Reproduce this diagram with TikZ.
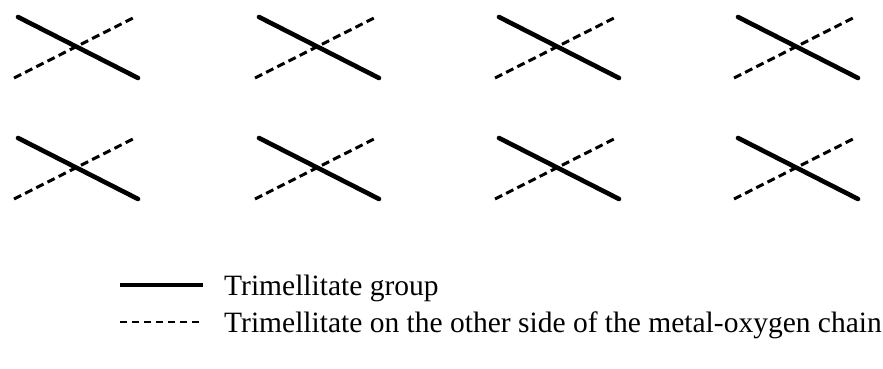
\documentclass[tikz,border=0pt]{standalone}
\usepackage{fontspec}
\setmainfont{Liberation Serif}
\begin{document}
\begin{tikzpicture}[x=1pt,y=-1pt,
  grp/.style={line width=4.6pt,line cap=round},
  otherside/.style={line width=3pt,dash pattern=on 8pt off 4.5pt},
  leggrp/.style={line width=4pt},
  legother/.style={line width=1.6pt,dash pattern=on 7pt off 5pt},
  legtext/.style={anchor=base west,inner sep=0pt,font=\fontsize{29.5}{34}\selectfont}]
\useasboundingbox (0,0) rectangle (883,369);
\foreach \dx/\r in {0/a,241/b,481/c,720/d}{
  \foreach \dy/\s in {0/1,121/2}{
    \coordinate (s1\r\s) at (18+\dx,17+\dy);
    \coordinate (s2\r\s) at (138+\dx,78+\dy);
    \coordinate (d1\r\s) at (14+\dx,78+\dy);
    \coordinate (d2\r\s) at (135+\dx,17+\dy);
    \draw[otherside] (d1\r\s) -- (d2\r\s);
    \draw[grp] (s1\r\s) -- (s2\r\s);
  }
}
\coordinate (la) at (120,285);
\coordinate (lb) at (203,285);
\coordinate (lc) at (120,322);
\coordinate (ld) at (203,322);
\draw[leggrp] (la) -- (lb);
\draw[legother] (lc) -- (ld);
\node[legtext] (t1) at (224,295) {Trimellitate group};
\node[legtext] (t2) at (224,332) {Trimellitate on the other side of the metal-oxygen chain};
\end{tikzpicture}
\end{document}
